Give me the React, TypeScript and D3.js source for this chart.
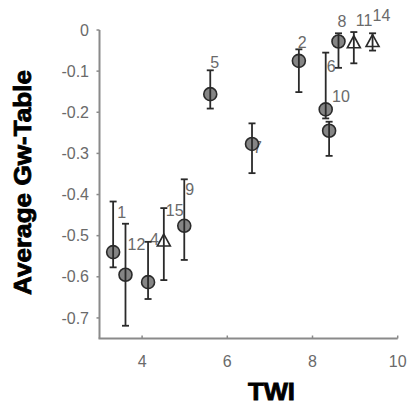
import React from "react";
import * as d3 from "d3";

// Site identifiers, topographic wetness index and average groundwater-table depth
const siteIds = [1, 12, 4, 15, 9, 5, 7, 2, 6, 10, 8, 11, 14];
const twi = [3.32, 3.61, 4.14, 4.51, 4.99, 5.6, 6.58, 7.68, 8.31, 8.39, 8.61, 8.97, 9.41];
const gwMean = [-0.54, -0.595, -0.613, -0.513, -0.476, -0.156, -0.277, -0.075, -0.193, -0.245, -0.028, -0.031, -0.028];
const gwHigh = [-0.417, -0.471, -0.515, -0.433, -0.363, -0.098, -0.227, -0.047, -0.055, -0.223, -0.008, -0.005, -0.008];
const gwLow = [-0.577, -0.719, -0.654, -0.608, -0.559, -0.191, -0.348, -0.151, -0.215, -0.306, -0.092, -0.081, -0.05];
const triangleSites = [15, 11, 14];

const xTicks = [4, 6, 8, 10];
const yTicks = [0, -0.1, -0.2, -0.3, -0.4, -0.5, -0.6, -0.7];

// label nudges (px) relative to each marker, in site order above
const labelDx = [4, 2, 2, 2, 1, 0, 1, -1, 1, 3, -1, 2, 0];
const labelDy = [-34, -25, -37, -25, -31, -26, 9, -13, -37, -29, -15, -17, -21];

export default function App() {
  const x = d3.scaleLinear().domain([3, 10]).range([99.5, 397.7]);
  const y = d3.scaleLinear().domain([0, -0.75]).range([30, 338.5]);
  const axisColor = "#8a8a8a";
  const textColor = "#6a6a6a";
  const font = "'Liberation Sans', Arial, sans-serif";
  const barColor = "#2a2a2a";

  const pts = siteIds.map((id, i) => ({
    id,
    x: x(twi[i]),
    y: y(gwMean[i]),
    hi: y(gwHigh[i]),
    lo: y(gwLow[i]),
    tri: triangleSites.includes(id),
    dx: labelDx[i],
    dy: labelDy[i],
  }));

  return (
    <svg
      width={409}
      height={404}
      style={{ position: "absolute", left: 0, top: 0, background: "#fff" }}
      fontFamily={font}
    >
      {/* y axis */}
      <line x1={x(3)} x2={x(3)} y1={y(0)} y2={y(-0.75)} stroke={axisColor} strokeWidth={2} />
      {yTicks.map((t) => (
        <g key={t}>
          <line x1={x(3) - 3} x2={x(3)} y1={y(t)} y2={y(t)} stroke={axisColor} strokeWidth={1.5} />
          <text x={89} y={y(t)} dy="0.35em" textAnchor="end" fontSize={16} fill={textColor}>
            {t === 0 ? "0" : d3.format(".1f")(t).replace("−", "-")}
          </text>
        </g>
      ))}

      {/* x axis */}
      <line x1={x(3) - 1} x2={x(10)} y1={y(-0.75)} y2={y(-0.75)} stroke={axisColor} strokeWidth={2} />
      {xTicks.map((t) => (
        <g key={t}>
          <line x1={x(t)} x2={x(t)} y1={y(-0.75)} y2={y(-0.75) - 3} stroke={axisColor} strokeWidth={1.5} />
          <text x={x(t)} y={367} textAnchor="middle" fontSize={16} fill={textColor}>
            {t}
          </text>
        </g>
      ))}

      {/* site labels */}
      {pts.map((p) => (
        <text key={"l" + p.id} x={p.x + p.dx} y={p.y + p.dy} fontSize={16} fill={textColor}>
          {p.id}
        </text>
      ))}

      {/* markers */}
      {pts.map((p) =>
        p.tri ? (
          <path
            key={"m" + p.id}
            d={`M${p.x},${p.y - 7} L${p.x + 6.5},${p.y + 5} L${p.x - 6.5},${p.y + 5} Z`}
            fill="#fff"
            stroke={barColor}
            strokeWidth={1.6}
          />
        ) : (
          <circle key={"m" + p.id} cx={p.x} cy={p.y} r={6.5} fill="#858585" stroke={barColor} strokeWidth={1.6} />
        )
      )}

      {/* error bars */}
      {pts.map((p) => (
        <g key={"e" + p.id} stroke={barColor} strokeWidth={1.8}>
          <line x1={p.x} x2={p.x} y1={p.hi} y2={p.lo} />
          <line x1={p.x - 3.5} x2={p.x + 3.5} y1={p.hi} y2={p.hi} />
          <line x1={p.x - 3.5} x2={p.x + 3.5} y1={p.lo} y2={p.lo} />
        </g>
      ))}

      {/* axis titles */}
      <text
        transform="translate(31,182.5) rotate(-90)"
        textAnchor="middle"
        fontSize={23}
        fontWeight="bold"
        fill="#000"
        stroke="#000"
        strokeWidth={0.8}
        textLength={225}
        lengthAdjust="spacingAndGlyphs"
      >
        Average Gw-Table
      </text>
      <text
        x={271.5}
        y={400}
        textAnchor="middle"
        fontSize={23}
        fontWeight="bold"
        fill="#000"
        stroke="#000"
        strokeWidth={0.8}
        textLength={47}
        lengthAdjust="spacingAndGlyphs"
      >
        TWI
      </text>
    </svg>
  );
}
